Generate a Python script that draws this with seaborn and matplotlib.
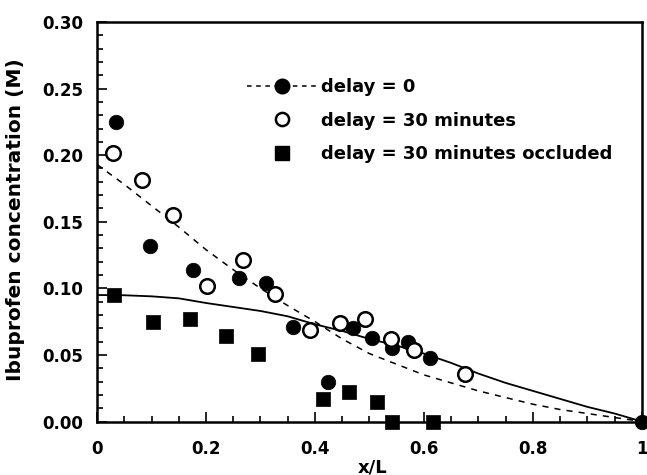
import matplotlib
matplotlib.use("Agg")
import matplotlib.pyplot as plt
from matplotlib.lines import Line2D
from matplotlib.ticker import MultipleLocator
import pandas as pd
import seaborn as sns

# measured points
x_d0 = [0.034, 0.097, 0.176, 0.260, 0.311, 0.360, 0.424, 0.470, 0.504, 0.542, 0.571, 0.611, 1.0]
y_d0 = [0.225, 0.132, 0.114, 0.108, 0.104, 0.071, 0.030, 0.070, 0.063, 0.055, 0.060, 0.048, 0.0]

x_d30 = [0.029, 0.082, 0.139, 0.201, 0.267, 0.327, 0.390, 0.446, 0.492, 0.539, 0.582, 0.675]
y_d30 = [0.202, 0.181, 0.155, 0.102, 0.121, 0.096, 0.069, 0.074, 0.077, 0.062, 0.054, 0.036]

x_occ = [0.032, 0.102, 0.171, 0.236, 0.296, 0.415, 0.463, 0.514, 0.542, 0.616]
y_occ = [0.095, 0.075, 0.077, 0.064, 0.051, 0.017, 0.022, 0.015, 0.0, 0.0]

# model curves
x_model = [0.0, 0.05, 0.1, 0.15, 0.2, 0.25, 0.3, 0.35, 0.4, 0.45, 0.5,
           0.55, 0.6, 0.65, 0.7, 0.75, 0.8, 0.85, 0.9, 0.95, 1.0]
y_dash = [0.193, 0.178, 0.162, 0.146, 0.129, 0.114, 0.100, 0.087, 0.075, 0.062, 0.051,
          0.043, 0.035, 0.029, 0.023, 0.018, 0.013, 0.009, 0.006, 0.003, 0.0]
y_solid = [0.095, 0.0948, 0.094, 0.0925, 0.089, 0.086, 0.083, 0.079, 0.073, 0.068, 0.062,
           0.057, 0.051, 0.044, 0.036, 0.029, 0.023, 0.017, 0.011, 0.006, 0.0]

x_ticks = [0, 0.2, 0.4, 0.6, 0.8, 1.0]
x_ticklabels = ['0', '0.2', '0.4', '0.6', '0.8', '1']
y_ticks = [0, 0.05, 0.10, 0.15, 0.20, 0.25, 0.30]
y_ticklabels = ['0.00', '0.05', '0.10', '0.15', '0.20', '0.25', '0.30']
labels = ['delay = 0', 'delay = 30 minutes', 'delay = 30 minutes occluded']

sns.set_style("ticks")
plt.rcParams['font.family'] = ['DejaVu Sans']
plt.rcParams['font.weight'] = 'bold'
plt.rcParams['axes.labelweight'] = 'bold'
plt.rcParams['text.color'] = 'black'
plt.rcParams['axes.labelcolor'] = 'black'
plt.rcParams['xtick.color'] = 'black'
plt.rcParams['ytick.color'] = 'black'
plt.rcParams['axes.edgecolor'] = 'black'

fig = plt.figure(figsize=(6.47, 4.75), dpi=100)
ax = fig.add_axes([0.15, 0.1126, 0.842, 0.8411])

model = pd.DataFrame({'x': x_model, 'dash': y_dash, 'solid': y_solid})
sns.lineplot(data=model, x='x', y='dash', ax=ax, color='black', linewidth=1.1,
             linestyle=(0, (4, 4)))
sns.lineplot(data=model, x='x', y='solid', ax=ax, color='black', linewidth=1.3)

ms = 110
sns.scatterplot(x=x_d0, y=y_d0, ax=ax, color='black', marker='o', s=ms,
                edgecolor='black', linewidth=0.5, clip_on=False, zorder=3)
sns.scatterplot(x=x_d30, y=y_d30, ax=ax, facecolor='white', marker='o', s=ms,
                edgecolor='black', linewidth=1.8, clip_on=False, zorder=3)
sns.scatterplot(x=x_occ, y=y_occ, ax=ax, color='black', marker='s', s=ms,
                edgecolor='black', linewidth=0.5, clip_on=False, zorder=3)

ax.set_xlim(0, 1)
ax.set_ylim(0, 0.30)
ax.xaxis.set_minor_locator(MultipleLocator(0.05))
ax.yaxis.set_minor_locator(MultipleLocator(0.01))
ax.set_xticks(x_ticks)
ax.set_xticklabels(x_ticklabels)
ax.set_yticks(y_ticks)
ax.set_yticklabels(y_ticklabels)
ax.tick_params(which='both', direction='in', width=1.2, labelsize=12, colors='black')
ax.tick_params(axis='x', which='both', pad=13)
ax.tick_params(axis='y', which='both', pad=10)
ax.tick_params(which='major', length=7)
ax.tick_params(which='minor', length=4)
for s in ax.spines.values():
    s.set_linewidth(1.8)
    s.set_color('black')
    s.set_visible(True)

ax.set_xlabel("x/L", fontsize=13, fontweight='bold', color='black')
ax.set_ylabel("Ibuprofen concentration (M)", fontsize=14.5, fontweight='bold', color='black')
ax.xaxis.set_label_coords(0.506, -0.092)
ax.yaxis.set_label_coords(-0.132, 0.505)

handles = [
    Line2D([], [], color='black', linestyle=(0, (3, 3)), linewidth=1.1, marker='o',
           markersize=10.5, markerfacecolor='black'),
    Line2D([], [], linestyle='none', marker='o', markersize=9.5,
           markerfacecolor='white', markeredgecolor='black', markeredgewidth=1.8),
    Line2D([], [], linestyle='none', marker='s', markersize=10.5,
           markerfacecolor='black', markeredgecolor='black'),
]
leg = ax.legend(handles, labels, loc='upper left', bbox_to_anchor=(0.275, 0.86),
                frameon=False, handlelength=3.9, handletextpad=0.2,
                labelspacing=0.87, borderpad=0, borderaxespad=0,
                prop={'weight': 'bold', 'size': 13})
for t in leg.get_texts():
    t.set_color('black')

fig.savefig("out.png", dpi=100)
